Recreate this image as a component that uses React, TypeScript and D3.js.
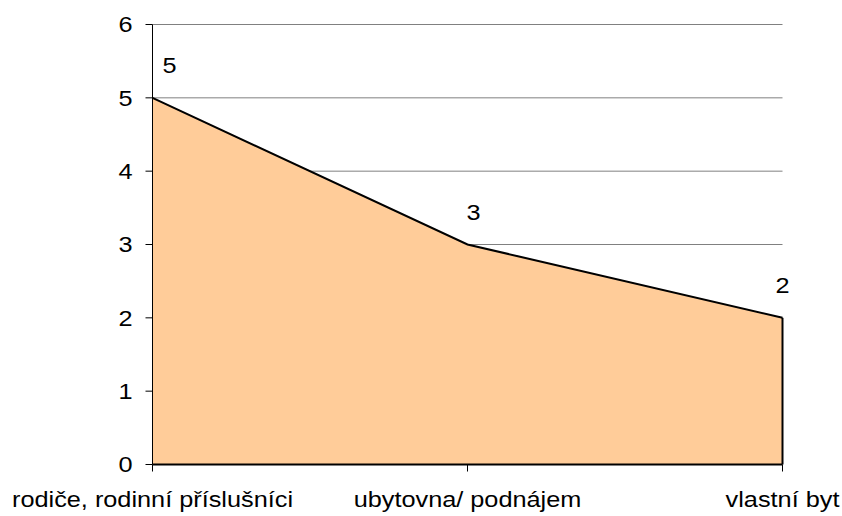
import React from "react";
import * as d3 from "d3";

const categories = ["rodiče, rodinní příslušníci", "ubytovna/ podnájem", "vlastní byt"];
const values = [5, 3, 2];
const yTicks = [0, 1, 2, 3, 4, 5, 6];
const labelDx = [17, 6, 0];

export default function App() {
  const W = 842, H = 516;
  const left = 152.5, right = 782.5, top = 24.5, bottom = 464.5;
  const sx = 1.15;
  const x = d3.scalePoint<string>().domain(categories).range([left, right]);
  const y = d3.scaleLinear().domain([0, 6]).range([bottom, top]);
  const data = categories.map((c, i) => ({ c, v: values[i] }));
  const area = d3.area<{ c: string; v: number }>().x(d => x(d.c)!).y0(y(0)).y1(d => y(d.v));
  const line = d3.line<{ c: string; v: number }>().x(d => x(d.c)!).y(d => y(d.v));
  const font = "'Liberation Sans', Arial, sans-serif";
  return (
    <svg width={W} height={H} style={{ position: "absolute", left: 0, top: 0, background: "#fff" }} fontFamily={font}>
      {yTicks.filter(t => t > 0).map(t => (
        <line key={t} x1={left} x2={right} y1={y(t)} y2={y(t)} stroke="#808080" strokeWidth={1} />
      ))}
      <path d={area(data)!} fill="#FFCC99" />
      <path d={line(data)!} fill="none" stroke="#000" strokeWidth={2} />
      <line x1={right} x2={right} y1={y(values[values.length - 1])} y2={bottom} stroke="#000" strokeWidth={2} />
      <line x1={left} x2={left} y1={top} y2={bottom} stroke="#000" strokeWidth={1} />
      <line x1={left} x2={right} y1={bottom} y2={bottom} stroke="#000" strokeWidth={2} />
      {yTicks.map(t => (
        <g key={t}>
          <line x1={left - 7} x2={left} y1={y(t)} y2={y(t)} stroke="#000" strokeWidth={1} />
          <text transform={`translate(${left - 20},${y(t)}) scale(${sx},1)`} dy="0.36em" textAnchor="end" fontSize={22}>{t}</text>
        </g>
      ))}
      {categories.map(c => (
        <g key={c}>
          <line x1={x(c)!} x2={x(c)!} y1={bottom} y2={bottom + 7} stroke="#000" strokeWidth={1} />
          <text transform={`translate(${x(c)!},${bottom + 42}) scale(${sx},1)`} textAnchor="middle" fontSize={22}>{c}</text>
        </g>
      ))}
      {data.map((d, i) => (
        <text key={d.c} transform={`translate(${x(d.c)! + labelDx[i]},${y(d.v) - 25}) scale(${sx},1)`} textAnchor="middle" fontSize={22}>{d.v}</text>
      ))}
    </svg>
  );
}
